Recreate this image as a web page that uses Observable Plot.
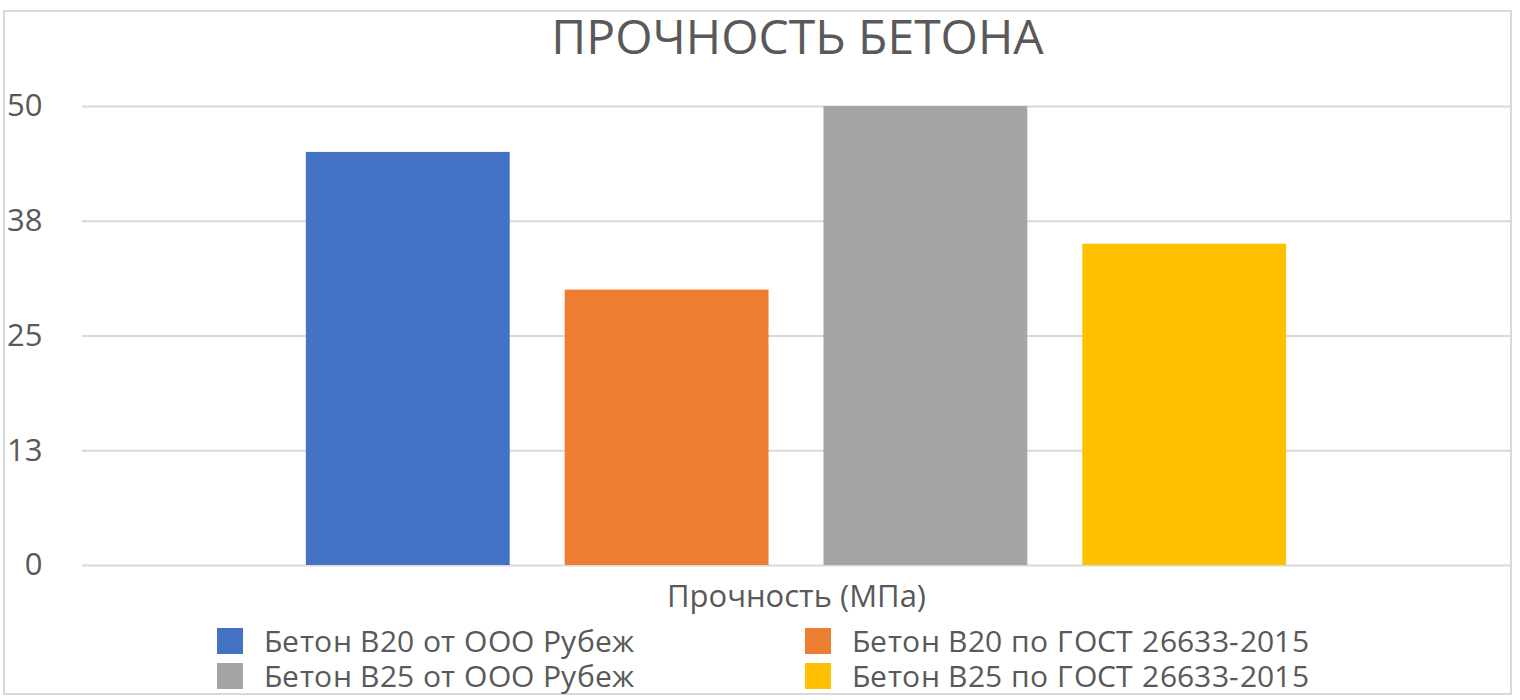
<!DOCTYPE html>
<html><head><meta charset="utf-8">
<script src="https://cdn.jsdelivr.net/npm/d3@7"></script>
<script src="https://cdn.jsdelivr.net/npm/@observablehq/plot@0.6"></script>
<style>
@font-face{font-family:"OpenSansTight";src:local("Open Sans"),local("Open Sans Regular"),local("OpenSans-Regular");ascent-override:95%;descent-override:20%;line-gap-override:0%}
body{margin:0;background:#fff;font-family:"Open Sans",sans-serif;color:#595959}
#wrap{position:relative;width:1520px;height:700px;overflow:hidden;background:#fff}
#frame{position:absolute;left:3px;top:10px;width:1509px;height:685px;border:2px solid #d9d9d9;box-sizing:border-box}
#title{position:absolute;left:0;top:12px;width:1520px;padding-left:75px;box-sizing:border-box;text-align:center;font-size:48px;line-height:48px;white-space:nowrap}
#chart{position:absolute;left:0;top:0}
#legend{position:absolute;left:217px;top:623px;display:grid;grid-template-columns:588px auto;font-family:"OpenSansTight","Open Sans",sans-serif;font-size:30px;letter-spacing:0.4px}
.item{display:flex;align-items:center;height:35px;white-space:nowrap}
.sw{width:26px;height:26px;margin-right:21px;flex:none}
.lt{display:block;height:35px;line-height:35px;overflow:visible}
</style></head>
<body>
<div id="wrap">
  <div id="frame"></div>
  <div id="chart"></div>
  <div id="title"></div>
  <div id="legend"></div>
</div>
<script>
const chartTitle = "ПРОЧНОСТЬ БЕТОНА";
const categoryLabel = "Прочность (МПа)";
const series = ["Бетон В20 от ООО Рубеж", "Бетон В20 по ГОСТ 26633-2015", "Бетон В25 от ООО Рубеж", "Бетон В25 по ГОСТ 26633-2015"];
const strength = [45, 30, 50, 35];
const colors = ["#4472C4", "#ED7D31", "#A5A5A5", "#FFC000"];
const yTicks = [0, 12.5, 25, 37.5, 50];
const yTickLabels = ["0", "13", "25", "38", "50"];

const data = series.map((s, i) => ({series: s, value: strength[i]}));

const plot = Plot.plot({
  width: 1520,
  height: 610,
  marginLeft: 82,
  marginRight: 10,
  marginTop: 106,
  marginBottom: 45,
  style: {background: "transparent", fontFamily: "'Open Sans', sans-serif", color: "#595959", overflow: "visible"},
  x: {domain: series, paddingInner: 0.2124, paddingOuter: 0.865, round: false, axis: null},
  y: {domain: [0, 50], axis: null},
  color: {domain: series, range: colors},
  marks: [
    Plot.ruleY(yTicks, {stroke: "#d9d9d9", strokeWidth: 2}),
    Plot.axisY(yTicks, {tickSize: 0, tickPadding: 40, fontSize: 31, fill: "#595959",
      tickFormat: d => yTickLabels[yTicks.indexOf(d)], label: null}),
    Plot.barY(data, {x: "series", y: "value", fill: "series"}),
    Plot.text([categoryLabel], {frameAnchor: "bottom", lineAnchor: "top", dy: 19, text: d => d, fontSize: 31, fill: "#595959"})
  ]
});
document.getElementById("chart").appendChild(plot);
document.getElementById("title").textContent = chartTitle;

const legend = document.getElementById("legend");
series.forEach((s, i) => {
  const item = document.createElement("div");
  item.className = "item";
  const sw = document.createElement("span");
  sw.className = "sw";
  sw.style.background = colors[i];
  const t = document.createElement("span");
  t.className = "lt";
  t.textContent = s;
  item.appendChild(sw);
  item.appendChild(t);
  legend.appendChild(item);
});
</script>
</body></html>
